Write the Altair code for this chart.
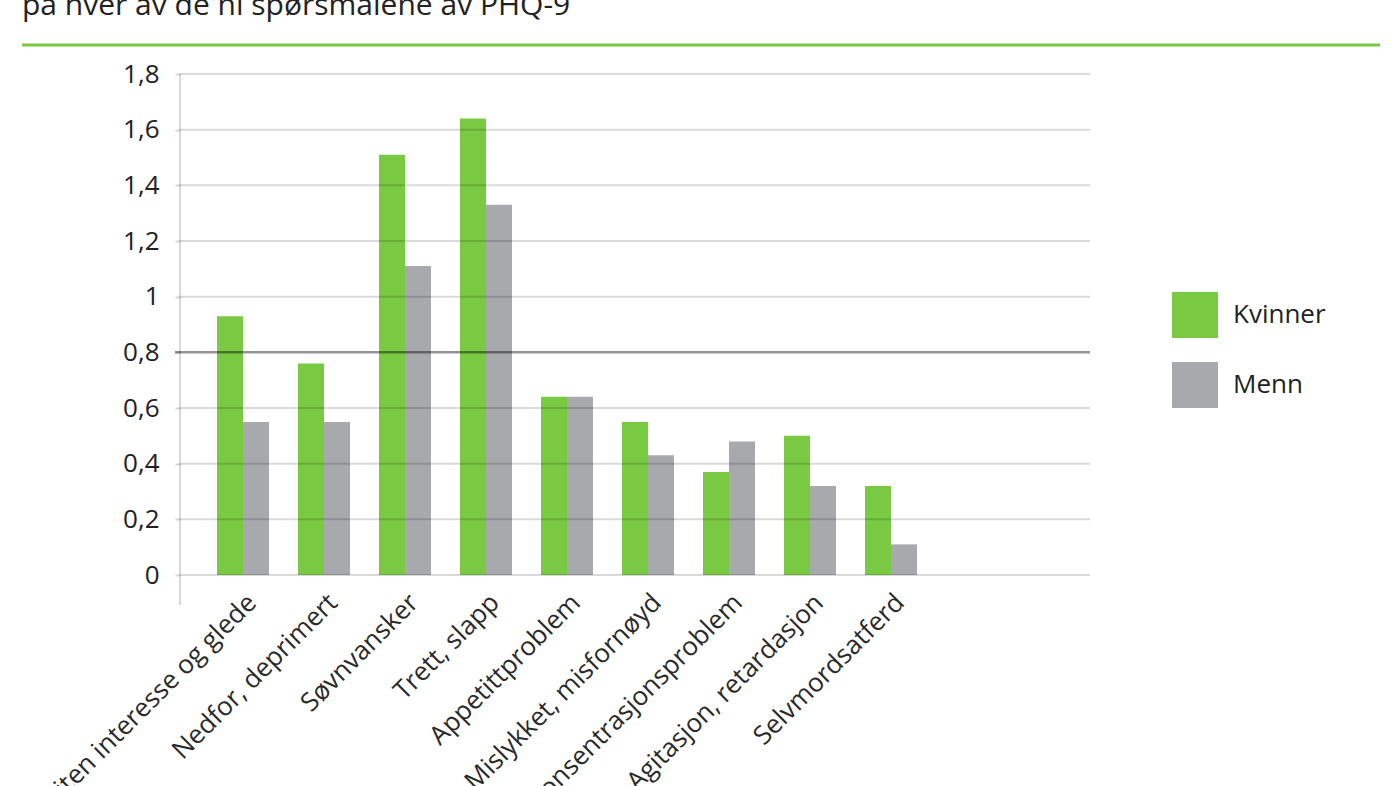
import altair as alt
import pandas as pd

categories = ["Liten interesse og glede", "Nedfor, deprimert", "Søvnvansker", "Trett, slapp",
              "Appetittproblem", "Mislykket, misfornøyd", "Konsentrasjonsproblem",
              "Agitasjon, retardasjon", "Selvmordsatferd"]
kvinner = [0.93, 0.76, 1.51, 1.64, 0.64, 0.55, 0.37, 0.50, 0.32]
menn = [0.55, 0.55, 1.11, 1.33, 0.64, 0.43, 0.48, 0.32, 0.11]
groups = ["Kvinner", "Menn"]
colors = ["#7AC943", "#A7A9AC"]
y_ticks = [0, 0.2, 0.4, 0.6, 0.8, 1.0, 1.2, 1.4, 1.6, 1.8]
grid_values = [0, 0.2, 0.4, 0.6, 1.0, 1.2, 1.4, 1.6, 1.8]
title_text = "på hver av de ni spørsmålene av PHQ-9"
threshold = 0.8

rows = []
for c, k, m in zip(categories, kvinner, menn):
    rows.append({"kategori": c, "kjonn": "Kvinner", "verdi": k})
    rows.append({"kategori": c, "kjonn": "Menn", "verdi": m})
df = pd.DataFrame(rows)

FONT = "Open Sans"
yscale = alt.Scale(domain=[0, 1.8], nice=False)

bars = alt.Chart(df).mark_bar().encode(
    x=alt.X("kategori:N", sort=categories,
            scale=alt.Scale(range=[0, 774], paddingInner=0.358, paddingOuter=0.457),
            axis=alt.Axis(title=None, labelAngle=-45, labelFontSize=26, labelColor="#2a2a2a",
                          labelFont=FONT, domain=False, ticks=False, labelPadding=14,
                          labelOverlap=False, labelLimit=500)),
    xOffset=alt.XOffset("kjonn:N", sort=groups, scale=alt.Scale(paddingInner=0, paddingOuter=0)),
    y=alt.Y("verdi:Q", scale=yscale,
            axis=alt.Axis(title=None, values=y_ticks, labelFontSize=26, labelFont=FONT,
                          labelColor="#222222", domain=False, tickSize=5, tickColor="#000000",
                          tickOpacity=0.15, tickWidth=2, labelPadding=16, grid=False,
                          labelExpr="replace(format(datum.value, '~g'), '.', ',')")),
    color=alt.Color("kjonn:N", sort=groups, scale=alt.Scale(domain=groups, range=colors),
                    legend=alt.Legend(title=None, orient="none", legendX=992, legendY=218,
                                      symbolType="square", symbolSize=2116, symbolStrokeWidth=0,
                                      symbolOpacity=1, labelFontSize=26, labelFont=FONT,
                                      labelColor="#222222", rowPadding=24, labelOffset=15)),
)

grid = alt.Chart(pd.DataFrame({"v": grid_values})).mark_rule(color="#000000", opacity=0.15, strokeWidth=2).encode(
    y=alt.Y("v:Q", scale=yscale), x=alt.value(0), x2=alt.value(910)
)

thr = alt.Chart(pd.DataFrame({"v": [threshold]})).mark_rule(color="#000000", opacity=0.42, strokeWidth=2.5).encode(
    y=alt.Y("v:Q", scale=yscale), x=alt.value(-5), x2=alt.value(910)
)

yline = alt.Chart(pd.DataFrame({"a": [0]})).mark_rule(color="#000000", opacity=0.15, strokeWidth=2).encode(
    x=alt.value(0), y=alt.value(0), y2=alt.value(531)
)

green_line = alt.Chart(pd.DataFrame({"a": [0]})).mark_rule(color="#7AC943", strokeWidth=3).encode(
    x=alt.value(-158), x2=alt.value(1200), y=alt.value(-29)
)

title = alt.Chart(pd.DataFrame({"t": [title_text]})).mark_text(
    align="left", baseline="alphabetic", fontSize=30, font=FONT, color="#222222"
).encode(x=alt.value(-158), y=alt.value(-59), text="t:N")

chart = alt.layer(bars, grid, thr, yline, green_line, title).properties(
    width=910, height=501,
    autosize=alt.AutoSizeParams(type="none"),
    padding={"left": 180, "top": 74, "right": 310, "bottom": 211},
    background="white",
).configure_view(stroke=None)

chart.save("out.html", embed_options={"renderer": "svg", "actions": False})
